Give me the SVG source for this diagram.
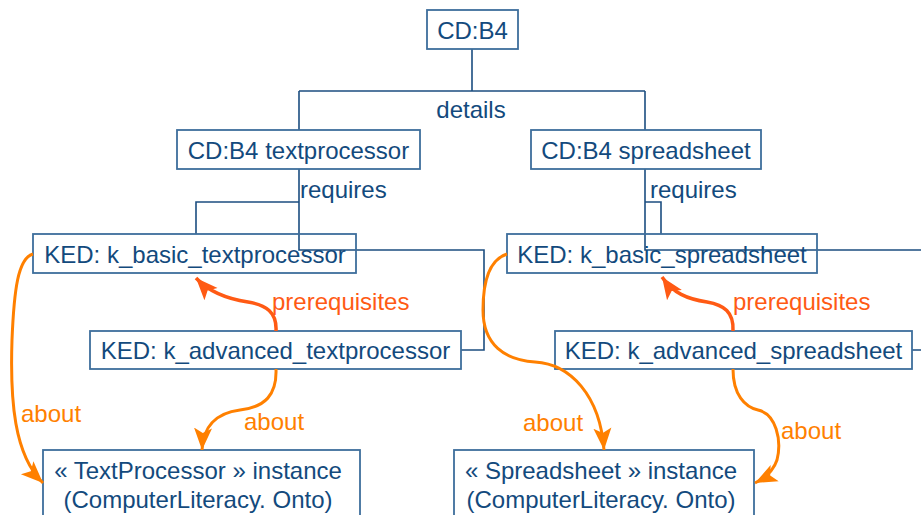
<svg xmlns="http://www.w3.org/2000/svg" width="921" height="515" viewBox="0 0 921 515">
<style>
.box{fill:#fff;stroke:#3d6e9c;stroke-width:1.8}
.tb{fill:none}
.t{font-family:"Liberation Sans",Arial,sans-serif;font-size:24px;fill:#134a7d}
.c{text-anchor:middle}
.con{fill:none;stroke:#1c4e80;stroke-width:1.6}
.ab{fill:none;stroke:#ff8000;stroke-width:3}
.pr{fill:none;stroke:#ff5a14;stroke-width:3.5}
.lab{font-family:"Liberation Sans",Arial,sans-serif;font-size:24px}
</style>
<defs>
<marker id="ma" markerUnits="userSpaceOnUse" markerWidth="24" markerHeight="24" viewBox="0 0 24 24" refX="22" refY="12" orient="auto">
<path d="M0,3 L22,12 L0,21 L5,12 Z" fill="#ff8000"/>
</marker>
<marker id="mp" markerUnits="userSpaceOnUse" markerWidth="24" markerHeight="24" viewBox="0 0 24 24" refX="22" refY="12" orient="auto">
<path d="M0,3 L22,12 L0,21 L5,12 Z" fill="#ff5a14"/>
</marker>
</defs>
<rect width="921" height="515" fill="#fff"/>
<g id="connectors">
<path class="con" d="M472,49 V91 M299,91 H645 M299,91 V130 M645,91 V130"/>
<path class="con" d="M299,169 V250 H484 V350 H461 M299,202 H196 V234"/>
<path class="con" d="M645,168 V250 H921 M645,202 H661 V234 M912,350 H921"/>
</g>
<g id="cdb4"><rect class="box" x="427" y="10" width="91" height="39"/><text class="t c" x="472.5" y="39">CD:B4</text></g>
<text class="t c" x="471" y="118">details</text>
<g id="cdb4_text"><rect class="box" x="177" y="130" width="243" height="39"/><text class="t c" x="298.5" y="159">CD:B4 textprocessor</text></g>
<g id="cdb4_spread"><rect class="box" x="531" y="130" width="230" height="39"/><text class="t c" x="646" y="159">CD:B4 spreadsheet</text></g>
<text class="t" x="300" y="198">requires</text>
<text class="t" x="650" y="198">requires</text>
<g id="k_basic_tp"><rect class="box tb" x="33" y="234" width="323" height="39"/><text class="t c" x="195" y="263">KED: k_basic_textprocessor</text></g>
<g id="k_adv_tp"><rect class="box" x="90" y="331" width="371" height="38"/><text class="t c" x="275.5" y="359">KED: k_advanced_textprocessor</text></g>
<g id="k_basic_ss"><rect class="box tb" x="507" y="234" width="310" height="39"/><text class="t c" x="662" y="263">KED: k_basic_spreadsheet</text></g>
<g id="k_adv_ss"><rect class="box" x="555" y="331" width="357" height="38"/><text class="t c" x="733.5" y="359">KED: k_advanced_spreadsheet</text></g>
<g id="inst_tp"><rect class="box" x="43" y="450" width="317" height="80"/><text class="t c" x="198" y="479">« TextProcessor » instance</text><text class="t c" x="198" y="508">(ComputerLiteracy. Onto)</text></g>
<g id="inst_ss"><rect class="box" x="454" y="450" width="300" height="80"/><text class="t c" x="601" y="479">« Spreadsheet » instance</text><text class="t c" x="601" y="508">(ComputerLiteracy. Onto)</text></g>
<g id="relations">
<path class="pr" d="M276,331 C277,312 266,305 248,302 C228,299 210,293 196,278" marker-end="url(#mp)"/>
<path class="pr" d="M733,331 C734,312 724,305 707,302 C687,299 673,293 662,277" marker-end="url(#mp)"/>
<text class="lab" x="272" y="310" fill="#ff5a14">prerequisites</text>
<text class="lab" x="733" y="310" fill="#ff5a14">prerequisites</text>
<path class="ab" d="M33,254 C18,258 14,290 12,340 C10,400 14,455 43,483" marker-end="url(#ma)"/>
<path class="ab" d="M276,369 C277,395 265,407 240,410 C215,413 203,428 202,450" marker-end="url(#ma)"/>
<path class="ab" d="M507,254 C488,260 483,285 483,310 C483,345 505,360 535,362 C570,364 600,395 604,450" marker-end="url(#ma)"/>
<path class="ab" d="M733,369 C733,395 745,407 758,410 C776,414 782,440 777,460 C773,472 765,478 755,483" marker-end="url(#ma)"/>
<text class="lab" x="21" y="422" fill="#ff8000">about</text>
<text class="lab" x="244" y="430" fill="#ff8000">about</text>
<text class="lab" x="523" y="431" fill="#ff8000">about</text>
<text class="lab" x="781" y="439" fill="#ff8000">about</text>
</g>
</svg>
